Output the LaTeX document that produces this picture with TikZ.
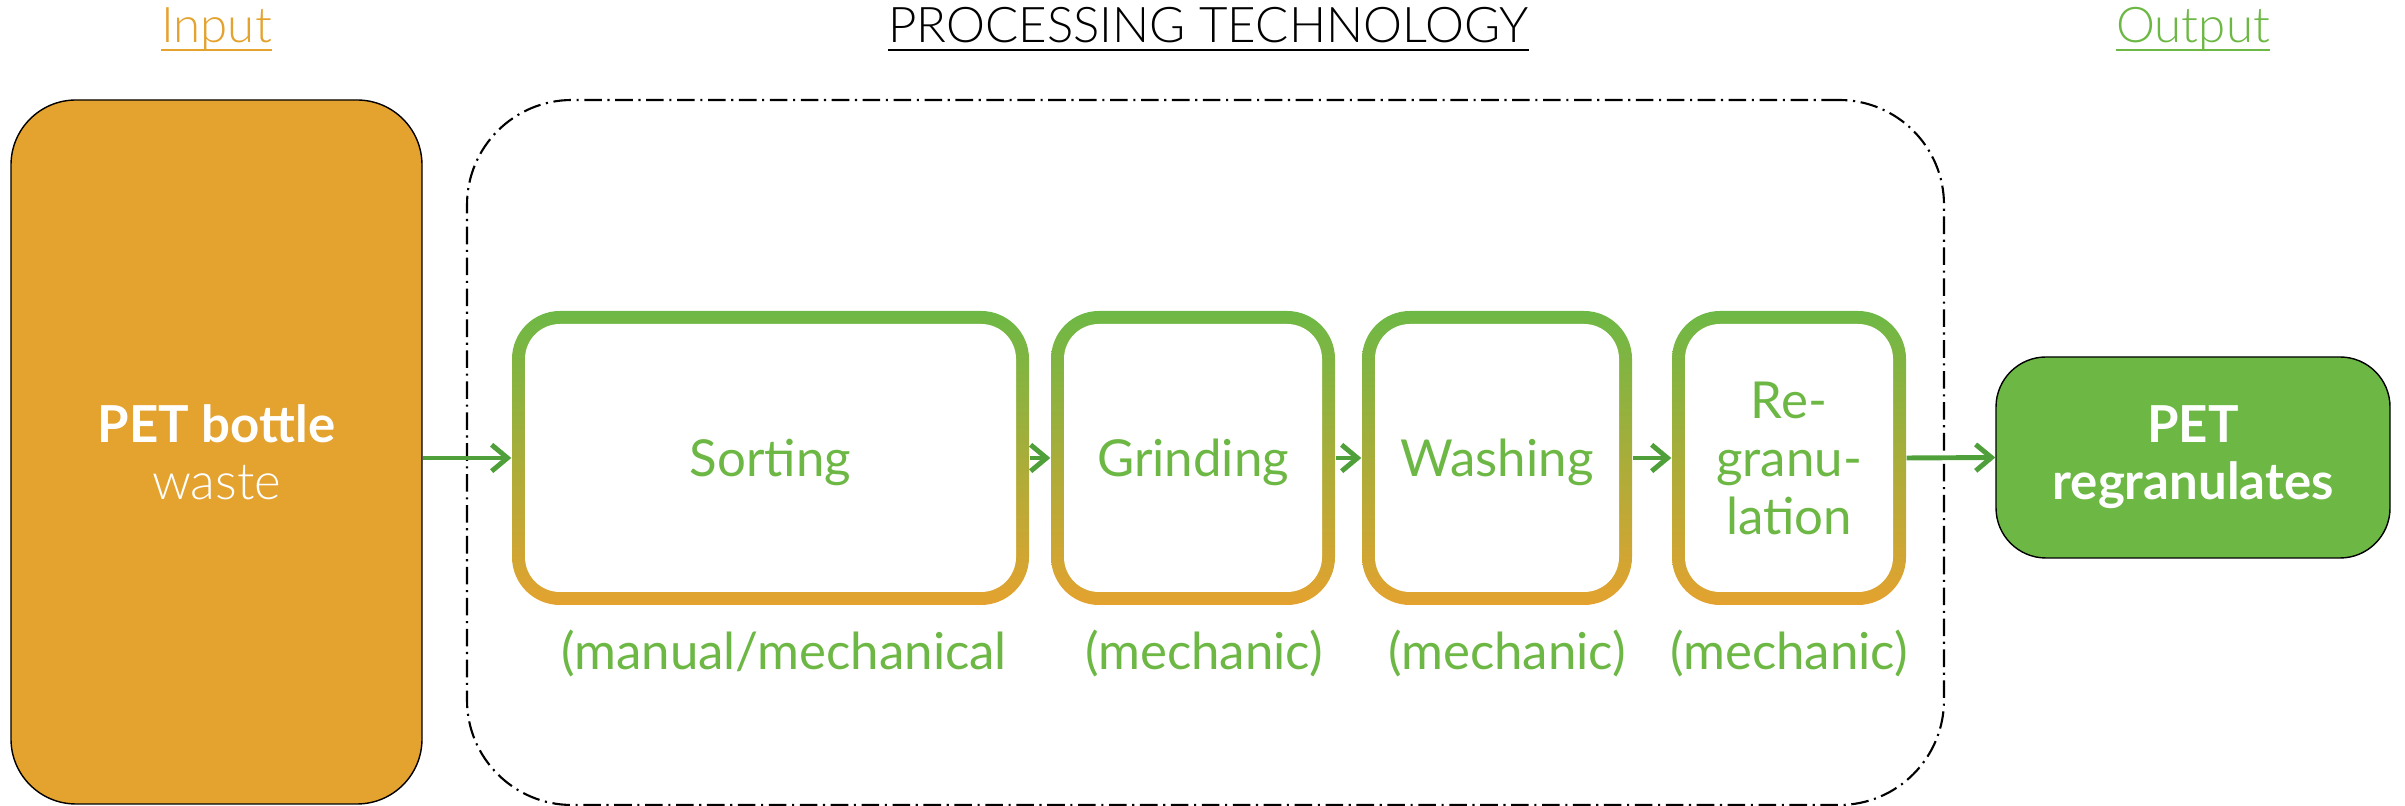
\documentclass[tikz,border=0pt]{standalone}
\usepackage{fontspec}
\setmainfont{Lato}
\IfFontExistsTF{Lato Light}{\newfontfamily\thinfont{Lato Light}}{\newfontfamily\thinfont{Lato}}
\usepackage{tikz}
\usetikzlibrary{arrows.meta,positioning}

\definecolor{pgreen}{HTML}{6DB845}
\definecolor{porange}{HTML}{E4A22F}
\definecolor{agreen}{HTML}{4F9F3A}

% underlined heading, rule just below the baseline
\newsavebox{\headbox}
\newcommand{\headline}[1]{\sbox{\headbox}{#1}\rlap{\rule[-2.4pt]{\wd\headbox}{0.8pt}}\usebox{\headbox}}

\begin{document}
\begin{tikzpicture}[
source/.style={
  draw=black,
  line width=0.4pt,
  fill=porange,
  rounded corners=0.65cm,
  minimum width=4.11cm,
  minimum height=7.04cm,
  inner sep=0pt,
  text=white,
  align=center,
  font=\fontsize{14.5}{16.3}\selectfont
  },
techframe/.style={
  draw=black,
  line width=0.6pt,
  dash pattern=on 5pt off 1.6pt on 0.6pt off 1.6pt,
  rounded corners=1.05cm,
  minimum width=14.77cm,
  minimum height=7.05cm
  },
stage/.style={
  rounded corners=0.48cm,
  minimum height=2.94cm,
  inner sep=0pt,
  text depth=0pt,
  top color=pgreen,
  bottom color=porange,
  text=pgreen,
  align=center,
  font=\fontsize{14.5}{16.5}\selectfont,
  path picture={
    \fill[white, rounded corners=0.35cm]
      ([shift={(0.13,-0.13)}]path picture bounding box.north west) rectangle
      ([shift={(-0.13,0.13)}]path picture bounding box.south east);
    }
  },
product/.style={
  draw=black,
  line width=0.4pt,
  fill=pgreen,
  rounded corners=0.5cm,
  minimum width=3.94cm,
  minimum height=2.01cm,
  inner sep=0pt,
  text=white,
  align=center,
  font=\bfseries\fontsize{14.5}{16.3}\selectfont
  },
heading/.style={
  anchor=base,
  inner sep=0pt,
  font=\thinfont\fontsize{14}{17}\selectfont
  },
note/.style={
  anchor=base,
  inner sep=0pt,
  text=pgreen,
  font=\fontsize{14.5}{16.3}\selectfont
  },
flow/.style={
  ->,
  draw=agreen,
  line width=1.4pt
  },
>={Straight Barb[length=4.5pt,width=7.5pt]}
]
\useasboundingbox (0,0) rectangle (24.05,8.06);

\node[techframe] (tech) at (12.055,3.535) {};
\node[source] (bottle) at (2.165,3.54)
  {\textbf{PET bottle}\\{\thinfont waste}};

\node[stage, minimum width=5.17cm] (sort) at (7.705,3.48) {Sorting};
\node[stage, minimum width=2.84cm] (grind) at (11.93,3.48) {Grinding};
\node[stage, minimum width=2.70cm] (wash) at (14.97,3.48) {Washing};
\node[stage, minimum width=2.34cm] (regran) at (17.89,3.48) {Re-\\granu-\\lation};

\node[product] (pellet) at (21.93,3.485) {PET\\regranulates};

\node[heading, text=porange] (intitle) at (2.165,7.63) {\headline{Input}};
\node[heading] (techtitle) at (12.085,7.63) {\headline{PROCESSING TECHNOLOGY}};
\node[heading, text=pgreen] (outtitle) at (21.93,7.63) {\headline{Output}};

\node[note] (sort-note) at (7.84,1.36) {(manual/mechanical};
\foreach \x/\n in {12.04/grind,15.07/wash,17.89/regran}
  \node[note] (\n-note) at (\x,1.36) {(mechanic)};

\draw[flow] (bottle.east |- sort.west) -- (sort.west);
\foreach \a/\b in {sort/grind,grind/wash,wash/regran}
  \draw[flow] (\a.east) -- (\b.west);
\draw[flow] (regran.east) -- (pellet.west);
\end{tikzpicture}
\end{document}
